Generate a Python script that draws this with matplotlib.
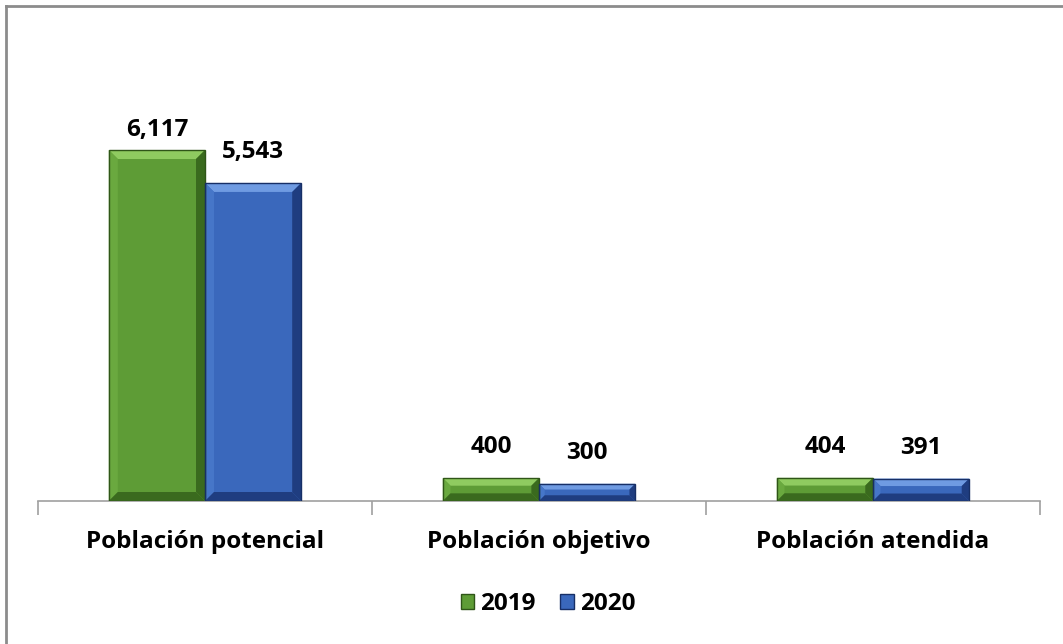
import numpy as np
import matplotlib.pyplot as plt
from matplotlib.patches import Polygon, Rectangle

categorias = ['Población potencial', 'Población objetivo', 'Población atendida']
anios = ['2019', '2020']
valores_2019 = [6117, 400, 404]
valores_2020 = [5543, 300, 391]

colores = {
    '2019': dict(cara='#5e9c36', claro='#8fcb60', medio='#6aa93f', oscuro='#3a6a1e', borde='#2f5518'),
    '2020': dict(cara='#3a68bc', claro='#6f9be2', medio='#4676c8', oscuro='#1f3d80', borde='#172f66'),
}

plt.rcParams['font.family'] = ['Open Sans', 'DejaVu Sans']

fig = plt.figure(figsize=(10.63, 6.44), dpi=100)
# area del grafico: base en y=501 px, arriba en y=120 px
ax = fig.add_axes([38 / 1063, 1 - 501 / 644, (1040 - 38) / 1063, (501 - 120) / 644])

x = np.arange(len(categorias))
ancho = 0.288
ax.set_xlim(-0.5, len(categorias) - 0.5)
ax.set_ylim(0, 6640)


def barra_bisel(x0, h, c):
    # cara plana + cuatro biseles en pixeles convertidos a datos
    p0 = ax.transData.transform((x0, 0))
    p1 = ax.transData.transform((x0 + ancho, h))
    b = min(9, (p1[1] - p0[1]) / 3)
    inv = ax.transData.inverted()

    def d(px, py):
        return inv.transform((px, py))
    xl, yb = p0
    xr, yt = p1
    ax.add_patch(Polygon([d(xl, yb), d(xr, yb), d(xr, yt), d(xl, yt)], closed=True,
                         facecolor=c['cara'], edgecolor='none', zorder=2))
    arriba = [d(xl, yt), d(xr, yt), d(xr - b, yt - b), d(xl + b, yt - b)]
    izq = [d(xl, yb), d(xl + b, yb + b), d(xl + b, yt - b), d(xl, yt)]
    der = [d(xr, yb), d(xr, yt), d(xr - b, yt - b), d(xr - b, yb + b)]
    abajo = [d(xl, yb), d(xr, yb), d(xr - b, yb + b), d(xl + b, yb + b)]
    ax.add_patch(Polygon(arriba, closed=True, facecolor=c['claro'], edgecolor='none', zorder=3))
    ax.add_patch(Polygon(izq, closed=True, facecolor=c['medio'], edgecolor='none', zorder=3))
    ax.add_patch(Polygon(der, closed=True, facecolor=c['oscuro'], edgecolor='none', zorder=3))
    ax.add_patch(Polygon(abajo, closed=True, facecolor=c['oscuro'], edgecolor='none', zorder=3))
    ax.add_patch(Polygon([d(xl, yb), d(xr, yb), d(xr, yt), d(xl, yt)], closed=True,
                         facecolor='none', edgecolor=c['borde'], linewidth=1.0, zorder=4))


for i in range(len(categorias)):
    for k, (anio, vals) in enumerate(zip(anios, [valores_2019, valores_2020])):
        x0 = x[i] - ancho + k * ancho
        barra_bisel(x0, vals[i], colores[anio])
        # etiqueta sobre la barra, sin salir del area del grafico
        ytop = ax.transData.transform((0, vals[i]))[1] + 19
        techo = ax.transData.transform((0, ax.get_ylim()[1]))[1] - 22
        ylab = ax.transData.inverted().transform((0, min(ytop, techo)))[1]
        ax.text(x0 + ancho / 2, ylab, f'{vals[i]:,}', ha='center', va='bottom',
                fontsize=17.5, fontweight='bold', color='black')

for s in ['top', 'right', 'left']:
    ax.spines[s].set_visible(False)
ax.spines['bottom'].set_color('#a0a0a0')
ax.spines['bottom'].set_linewidth(1.2)
ax.set_yticks([])
ax.set_xticks(np.arange(-0.5, len(categorias), 1.0))
ax.set_xticklabels([])
ax.tick_params(axis='x', length=10, width=1.2, color='#a0a0a0')
for i, cat in enumerate(categorias):
    ax.annotate(cat, xy=(x[i], 0), xycoords=('data', 'axes fraction'), xytext=(0, -41),
                textcoords='offset pixels', ha='center', va='center',
                fontsize=17.5, fontweight='bold')

# leyenda
handles = [Rectangle((0, 0), 1, 1, facecolor=colores[a]['cara'], edgecolor=colores[a]['borde'])
           for a in anios]
fig.legend(handles, anios, loc='center', bbox_to_anchor=(548 / 1063, 1 - 604 / 644), ncol=2,
           frameon=False, prop=dict(size=17.5, weight='bold'), handlelength=0.55, handleheight=0.55,
           handletextpad=0.25, columnspacing=1.0)

# marco gris arriba e izquierda
fig.add_artist(plt.Line2D([6 / 1063, 6 / 1063], [0, 1 - 6 / 644], color='#8c8c8c', linewidth=2))
fig.add_artist(plt.Line2D([6 / 1063, 1], [1 - 6 / 644, 1 - 6 / 644], color='#8c8c8c', linewidth=2))

fig.savefig('out.png', dpi=100)
